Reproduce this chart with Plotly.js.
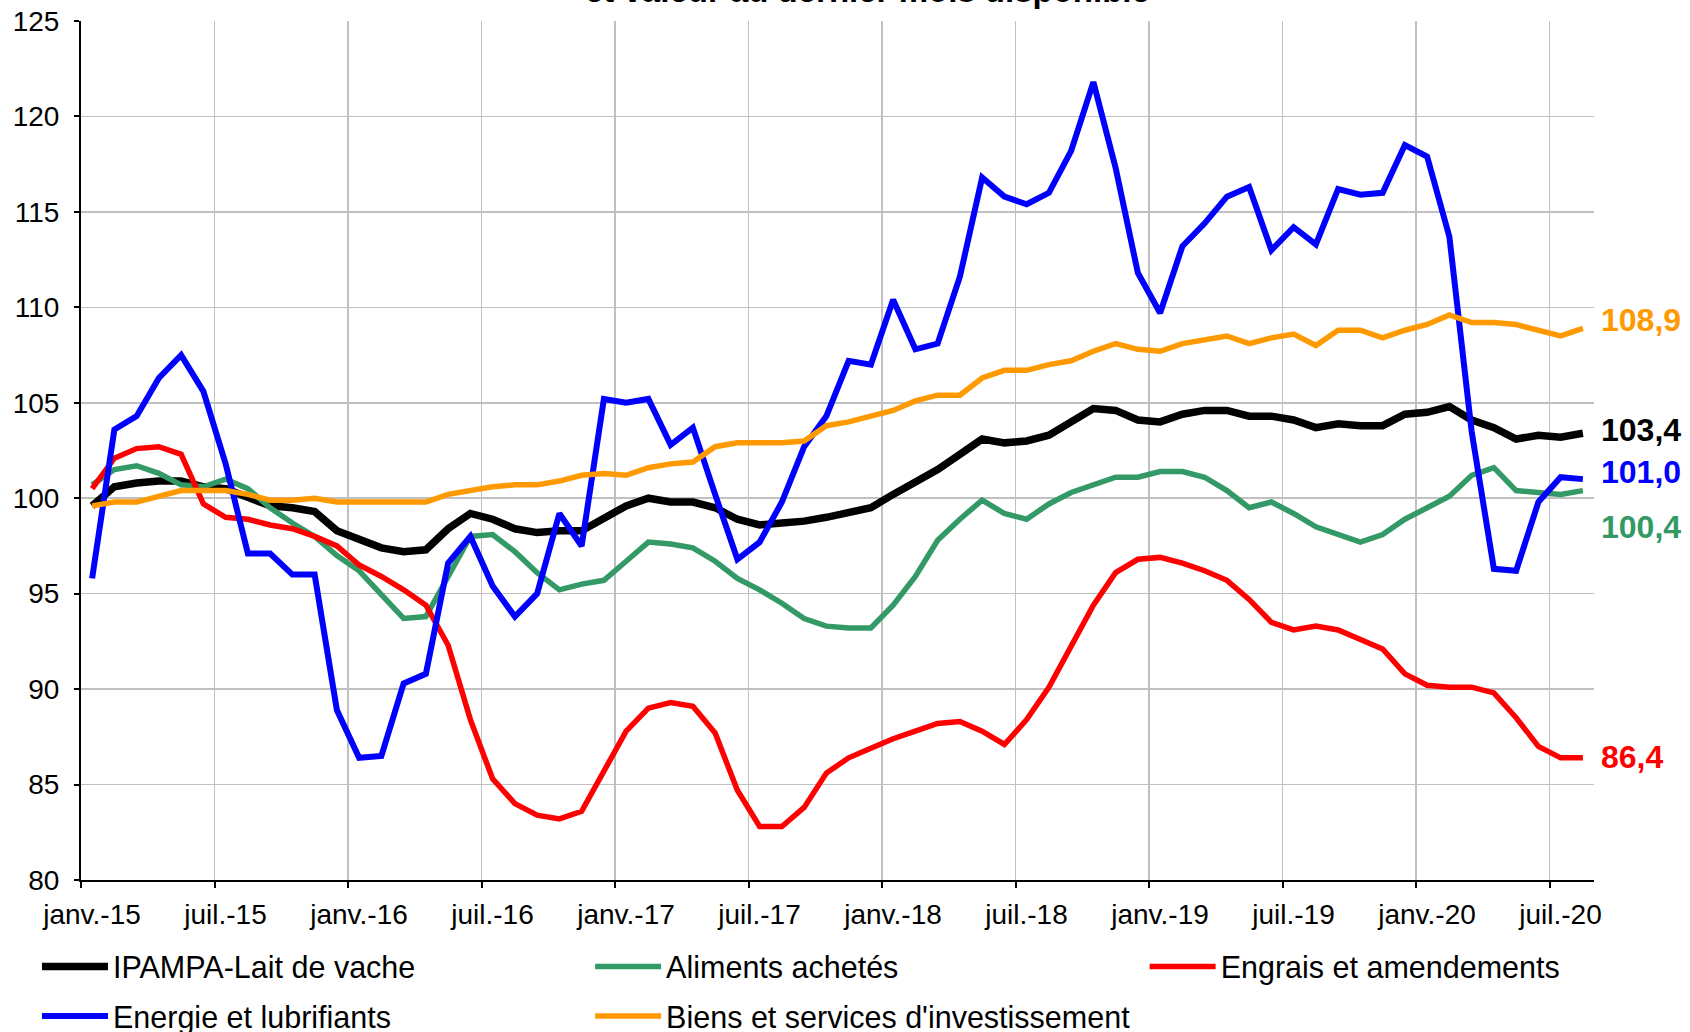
<!DOCTYPE html>
<html>
<head>
<meta charset="utf-8">
<script src="https://cdn.plot.ly/plotly-3.0.1.min.js"></script>
<style>
  body {margin:0; background:#ffffff;}
  #plot {width:1690px; height:1032px;}
</style>
</head>
<body>
<div id="plot"></div>
<script>
//mois de janv.-15 a aout-20
const month_names=['janv.','févr.','mars','avr.','mai','juin','juil.','août','sept.','oct.','nov.','déc.'];
const years=['15','16','17','18','19','20'];
const n_months=68;

let months=[];
for (let k=0;k<n_months;k++){
  months.push(month_names[k%12]+'-'+years[Math.floor(k/12)]);
}

//indices (base 100 = 2015)
const lait=[99.6,100.6,100.8,100.9,100.9,100.6,100.5,100.0,99.6,99.5,99.3,98.3,97.9,97.4,97.2,97.3,98.4,
  99.2,98.9,98.4,98.2,98.3,98.3,99.0,99.6,100.0,99.8,99.8,99.5,98.9,98.6,98.7,98.8,99.0,
  99.2,99.5,100.2,100.8,101.5,102.3,103.1,102.9,103.0,103.3,104.0,104.7,104.6,104.1,104.0,104.4,104.6,
  104.6,104.3,104.3,104.1,103.7,103.9,103.8,103.8,104.4,104.5,104.8,104.1,103.7,103.1,103.3,103.2,103.4];

const aliments=[100.7,101.5,101.7,101.3,100.7,100.6,101.0,100.5,99.5,98.7,98.0,97.0,96.2,94.9,93.7,93.8,95.9,
  98.0,98.1,97.2,96.1,95.2,95.5,95.7,96.7,97.7,97.6,97.4,96.7,95.8,95.2,94.5,93.7,93.3,
  93.2,93.2,94.4,95.9,97.8,98.9,99.9,99.2,98.9,99.7,100.3,100.7,101.1,101.1,101.4,101.4,101.1,
  100.4,99.5,99.8,99.2,98.5,98.1,97.7,98.1,98.9,99.5,100.1,101.2,101.6,100.4,100.3,100.2,100.4];

const engrais=[100.5,102.1,102.6,102.7,102.3,99.7,99.0,98.9,98.6,98.4,98.0,97.5,96.5,95.9,95.2,94.4,92.3,
  88.4,85.3,84.0,83.4,83.2,83.6,85.7,87.8,89.0,89.3,89.1,87.7,84.7,82.8,82.8,83.8,85.6,
  86.4,86.9,87.4,87.8,88.2,88.3,87.8,87.1,88.4,90.1,92.3,94.4,96.1,96.8,96.9,96.6,96.2,
  95.7,94.7,93.5,93.1,93.3,93.1,92.6,92.1,90.8,90.2,90.1,90.1,89.8,88.5,87.0,86.4,86.4];

const energie=[95.8,103.6,104.3,106.3,107.5,105.6,101.8,97.1,97.1,96.0,96.0,88.9,86.4,86.5,90.3,90.8,96.6,
  98.0,95.4,93.8,95.0,99.2,97.5,105.2,105.0,105.2,102.8,103.7,100.2,96.8,97.7,99.8,102.7,104.3,
  107.2,107.0,110.4,107.8,108.1,111.6,116.8,115.8,115.4,116.0,118.2,121.8,117.3,111.8,109.7,113.2,114.4,
  115.8,116.3,113.0,114.2,113.3,116.2,115.9,116.0,118.5,117.9,113.7,103.5,96.3,96.2,99.8,101.1,101.0];

const biens=[99.6,99.8,99.8,100.1,100.4,100.4,100.4,100.2,99.9,99.9,100.0,99.8,99.8,99.8,99.8,99.8,100.2,
  100.4,100.6,100.7,100.7,100.9,101.2,101.3,101.2,101.6,101.8,101.9,102.7,102.9,102.9,102.9,103.0,103.8,
  104.0,104.3,104.6,105.1,105.4,105.4,106.3,106.7,106.7,107.0,107.2,107.7,108.1,107.8,107.7,108.1,108.3,
  108.5,108.1,108.4,108.6,108.0,108.8,108.8,108.4,108.8,109.1,109.6,109.2,109.2,109.1,108.8,108.5,108.9];

const names=['IPAMPA-Lait de vache','Aliments achetés','Engrais et amendements','Energie et lubrifiants',"Biens et services d'investissement"];
const series=[lait,aliments,engrais,energie,biens];

//style
const colors=['#000000','#339966','#ff0000','#0000ff','#ff9900'];
const widths=[7.5,5.5,5.5,6,5.5];
const legends=['legend','legend2','legend3','legend','legend2'];
const label_yshift=[3,-36,1,7,8.5];

const font_family='"Liberation Sans", Arial, sans-serif';

//ticks tous les 6 mois, grille entre les categories
let tick_pos=[];
let tick_txt=[];
for (let k=0;k<n_months;k+=6){
  tick_pos.push(k-0.5);
  tick_txt.push(months[k]);
}

let data=[];
let annotations=[];
for (let s=0;s<series.length;s++){
  data.push({
    x: months,
    y: series[s],
    name: names[s],
    type: 'scatter',
    mode: 'lines',
    line: {color: colors[s], width: widths[s]},
    legend: legends[s],
    legendgroup: 'g'+s,
    hoverinfo: 'skip'
  });

  //valeur du dernier mois
  let last=series[s][n_months-1];
  annotations.push({
    x: months[n_months-1],
    y: last,
    xref: 'x',
    yref: 'y',
    text: '<b>'+last.toFixed(1).replace('.',',')+'</b>',
    showarrow: false,
    xanchor: 'left',
    yanchor: 'middle',
    xshift: 16,
    yshift: label_yshift[s],
    font: {family: font_family, size: 32, color: colors[s]}
  });
}

//titre (ligne coupee en haut de l'image)
annotations.push({
  xref: 'paper',
  yref: 'paper',
  x: 0.52,
  y: 1.0113,
  xanchor: 'center',
  yanchor: 'bottom',
  text: '<b>et valeur au dernier mois disponible</b>',
  showarrow: false,
  font: {family: font_family, size: 33, color: '#000000'}
});

let legend_common={
  orientation: 'v',
  xanchor: 'left',
  yanchor: 'top',
  y: -0.07,
  font: {family: font_family, size: 30.5, color: '#000000'},
  itemwidth: 66,
  tracegroupgap: 7,
  bgcolor: 'rgba(0,0,0,0)'
};

var layout={
  width: 1690,
  height: 1032,
  paper_bgcolor: '#ffffff',
  plot_bgcolor: '#ffffff',
  margin: {l: 81, r: 96, t: 21, b: 152, autoexpand: false},
  font: {family: font_family, color: '#000000'},
  showlegend: true,
  legend: Object.assign({}, legend_common, {x: -0.0291}),
  legend2: Object.assign({}, legend_common, {x: 0.3365}),
  legend3: Object.assign({}, legend_common, {x: 0.7030}),
  xaxis: {
    type: 'category',
    range: [-0.5, n_months-0.5],
    tickmode: 'array',
    tickvals: tick_pos,
    ticktext: tick_txt,
    ticklabelshift: 11,
    ticks: 'outside',
    ticklen: 6,
    tickwidth: 2,
    tickcolor: '#000000',
    ticklabelstandoff: 2,
    showgrid: true,
    gridcolor: '#c0c0c0',
    gridwidth: 1.5,
    showline: true,
    linecolor: '#000000',
    linewidth: 2,
    zeroline: false,
    tickfont: {family: font_family, size: 28, color: '#000000'}
  },
  yaxis: {
    range: [80, 125],
    dtick: 5,
    ticks: 'outside',
    ticklen: 5,
    tickwidth: 2,
    tickcolor: '#000000',
    ticklabelstandoff: 9,
    showgrid: true,
    gridcolor: '#c0c0c0',
    gridwidth: 1.5,
    showline: true,
    linecolor: '#000000',
    linewidth: 2,
    zeroline: false,
    tickfont: {family: font_family, size: 28, color: '#000000'}
  },
  annotations: annotations
};

Plotly.newPlot('plot', data, layout, {displayModeBar: false, staticPlot: true});
</script>
</body>
</html>
